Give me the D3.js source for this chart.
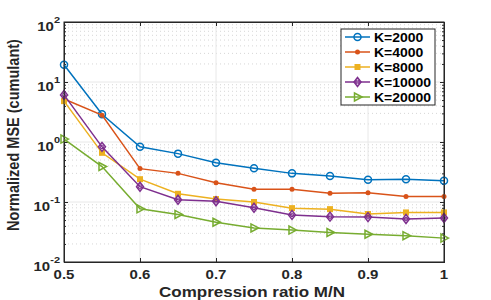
<!DOCTYPE html>
<html>
<head>
<meta charset="utf-8">
<script src="https://cdn.jsdelivr.net/npm/d3@7"></script>
<style>
  body { margin: 0; background: #fff; }
  svg { display: block; font-family: "Liberation Sans", Arial, Helvetica, sans-serif; }
</style>
</head>
<body>
<div id="chart"></div>
<script>
// values
var ratio = [0.5, 0.55, 0.6, 0.65, 0.7, 0.75, 0.8, 0.85, 0.9, 0.95, 1.0];
var k2000 = [19.4, 2.9, 0.83, 0.64, 0.45, 0.365, 0.30, 0.27, 0.235, 0.24, 0.227];
var k4000 = [5.2, 2.8, 0.36, 0.30, 0.21, 0.163, 0.163, 0.14, 0.143, 0.123, 0.123];
var k8000 = [4.8, 0.66, 0.24, 0.137, 0.112, 0.10, 0.079, 0.076, 0.063, 0.067, 0.067];
var k10000 = [6.1, 0.83, 0.18, 0.109, 0.103, 0.080, 0.061, 0.057, 0.056, 0.052, 0.054];
var k20000 = [1.12, 0.39, 0.077, 0.062, 0.046, 0.037, 0.034, 0.031, 0.029, 0.0275, 0.025];
var seriesNames = ["K=2000", "K=4000", "K=8000", "K=10000", "K=20000"];
var xTicks = [0.5, 0.6, 0.7, 0.8, 0.9, 1];
var yDecades = [-2, -1, 0, 1, 2];

var series = [
  { name: seriesNames[0], values: k2000, color: "#0072BD", marker: "circle" },
  { name: seriesNames[1], values: k4000, color: "#D95319", marker: "dot" },
  { name: seriesNames[2], values: k8000, color: "#EDB120", marker: "square" },
  { name: seriesNames[3], values: k10000, color: "#7E2F8E", marker: "diamond" },
  { name: seriesNames[4], values: k20000, color: "#77AC30", marker: "triangle" }
];

var W = 491, H = 300;
var m = { top: 22, right: 47, bottom: 38, left: 64 };
var pw = W - m.left - m.right, ph = H - m.top - m.bottom;
var SQ = 0.88; // the figure looks squashed vertically
var ax = "#262626";

var svg = d3.select("#chart").append("svg").attr("width", W).attr("height", H);
var g = svg.append("g").attr("transform", "translate(" + m.left + "," + m.top + ")");

var x = d3.scaleLinear().domain([0.5, 1]).range([0, pw]);
var y = d3.scaleLog().domain([1e-2, 1e2]).range([ph, 0]);

function label(parent, px, py, size, anchor) {
  return parent.append("text")
    .attr("transform", "translate(" + px + "," + py + ") scale(1," + SQ + ")")
    .attr("text-anchor", anchor).attr("fill", ax)
    .style("font-size", size + "px").style("font-weight", "bold");
}

// minor grid (dotted) at 2..9 x 10^k
var minor = [];
yDecades.slice(0, -1).forEach(function(e) {
  for (var k = 2; k <= 9; k++) minor.push(k * Math.pow(10, e));
});
g.append("g").selectAll("line").data(minor).enter().append("line")
  .attr("x1", 0).attr("x2", pw)
  .attr("y1", function(d) { return y(d); }).attr("y2", function(d) { return y(d); })
  .attr("stroke", "#d6d6d6").attr("stroke-dasharray", "1,3");

// major grid
var decVals = yDecades.map(function(e) { return Math.pow(10, e); });
g.append("g").selectAll("line").data(decVals).enter().append("line")
  .attr("x1", 0).attr("x2", pw)
  .attr("y1", function(d) { return y(d); }).attr("y2", function(d) { return y(d); })
  .attr("stroke", "#e8e8e8");
g.append("g").selectAll("line").data(xTicks).enter().append("line")
  .attr("y1", 0).attr("y2", ph)
  .attr("x1", function(d) { return x(d); }).attr("x2", function(d) { return x(d); })
  .attr("stroke", "#e8e8e8");

// axes, ticks pointing inward
var xb = g.append("g").attr("transform", "translate(0," + ph + ")")
  .call(d3.axisBottom(x).tickValues(xTicks).tickSize(-4).tickFormat(""));
var xt = g.append("g").call(d3.axisTop(x).tickValues(xTicks).tickSize(-4).tickFormat(""));
var yl = g.append("g").call(d3.axisLeft(y).tickValues(decVals).tickSize(-4).tickFormat(""));
var yr = g.append("g").attr("transform", "translate(" + pw + ",0)")
  .call(d3.axisRight(y).tickValues(decVals).tickSize(-4).tickFormat(""));
var ylm = g.append("g").call(d3.axisLeft(y).tickValues(minor).tickSize(-2).tickFormat(""));
var yrm = g.append("g").attr("transform", "translate(" + pw + ",0)")
  .call(d3.axisRight(y).tickValues(minor).tickSize(-2).tickFormat(""));
[xb, xt, yl, yr, ylm, yrm].forEach(function(a) {
  a.selectAll("path, line").attr("stroke", ax);
});

// x tick labels
xTicks.forEach(function(d) {
  label(g, x(d), ph + 17, 15, "middle").text(d === 1 ? "1" : d3.format(".1f")(d));
});

// y tick labels 10^k
decVals.forEach(function(d) {
  var t = label(g, -4, y(d) + 8.5, 15, "end");
  t.append("tspan").text("10");
  t.append("tspan").attr("dy", -8).style("font-size", "11px").text(Math.round(Math.log10(d)));
});

// lines and markers
var line = d3.line().x(function(d) { return x(d[0]); }).y(function(d) { return y(d[1]); });

function drawMarker(sel, type, color) {
  if (type === "circle") {
    sel.append("circle").attr("r", 3.5).attr("fill", "none").attr("stroke", color).attr("stroke-width", 1.5);
  } else if (type === "dot") {
    sel.append("circle").attr("r", 2.5).attr("fill", color);
  } else if (type === "square") {
    sel.append("rect").attr("x", -3).attr("y", -3).attr("width", 6).attr("height", 6).attr("fill", color);
  } else if (type === "diamond") {
    sel.append("path").attr("d", "M0,-4.5L3.5,0L0,4.5L-3.5,0Z").attr("fill", "none").attr("stroke", color).attr("stroke-width", 1.5);
    sel.append("circle").attr("r", 1.8).attr("fill", "none").attr("stroke", color).attr("stroke-width", 1);
  } else if (type === "triangle") {
    sel.append("path").attr("d", "M4.5,0L-3,-4L-3,4Z").attr("fill", "none").attr("stroke", color).attr("stroke-width", 1.5);
  }
}

series.forEach(function(s) {
  var pts = ratio.map(function(r, i) { return [r, s.values[i]]; });
  g.append("path").datum(pts).attr("d", line).attr("fill", "none")
    .attr("stroke", s.color).attr("stroke-width", 1.5);
  g.append("g").selectAll("g").data(pts).enter().append("g")
    .attr("transform", function(d) { return "translate(" + x(d[0]) + "," + y(d[1]) + ")"; })
    .each(function() { drawMarker(d3.select(this), s.marker, s.color); });
});

// frame on top
g.append("rect").attr("width", pw).attr("height", ph).attr("fill", "none").attr("stroke", ax);

// axis labels
label(svg, 252, 297, 17, "middle").text("Compression ratio M/N");
svg.append("text")
  .attr("transform", "translate(19,135) rotate(-90) scale(" + SQ + ",1)")
  .attr("text-anchor", "middle").attr("fill", ax)
  .style("font-size", "16.5px").style("font-weight", "bold")
  .text("Normalized MSE (cumulant)");

// legend
var lg = svg.append("g").attr("transform", "translate(341,29)");
lg.append("rect").attr("width", 94).attr("height", 76).attr("fill", "#fff").attr("stroke", ax);
series.forEach(function(s, i) {
  var cy = 8 + i * 15;
  var row = lg.append("g").attr("transform", "translate(0," + cy + ")");
  row.append("line").attr("x1", 4).attr("x2", 29).attr("stroke", s.color).attr("stroke-width", 1.5);
  drawMarker(row.append("g").attr("transform", "translate(16.5,0)"), s.marker, s.color);
  label(lg, 33, cy + 4.5, 14, "start").attr("fill", "#000").text(s.name);
});
</script>
</body>
</html>
